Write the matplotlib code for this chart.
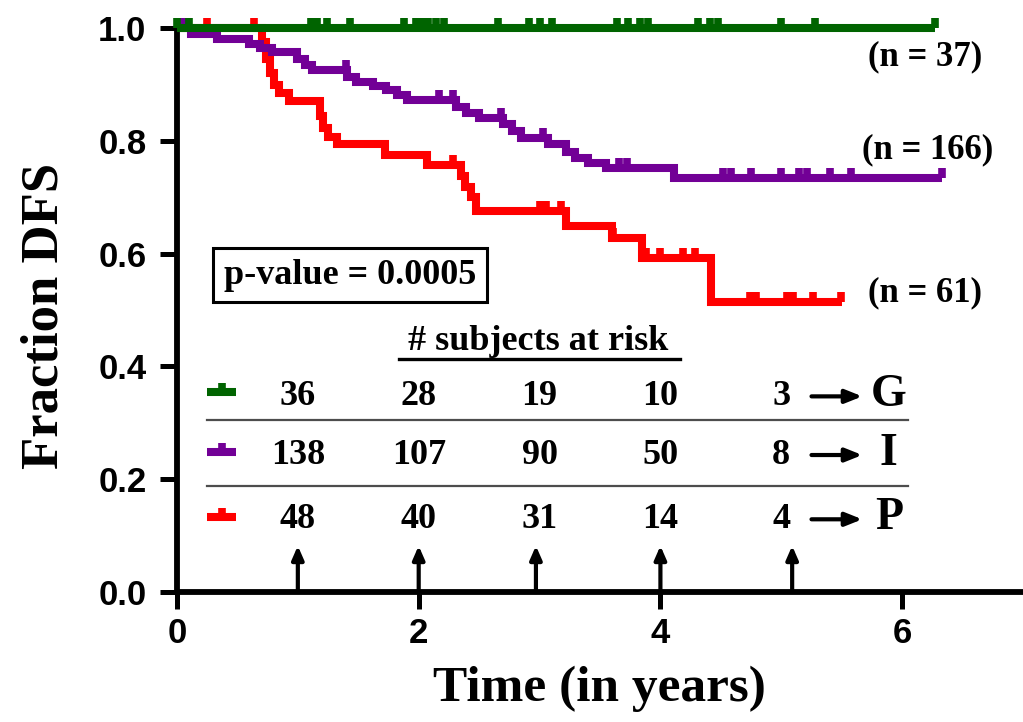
import matplotlib

matplotlib.use("Agg")
import matplotlib.pyplot as plt
import numpy as np
from matplotlib.path import Path

# ---- data ------------------------------------------------------------------
GROUPS = ["G", "I", "P"]
COLORS = {"G": "#006400", "I": "#720096", "P": "#ff0000"}
N_TOTAL = {"G": 37, "I": 166, "P": 61}

# Kaplan-Meier step points (time in years, survival after the step)
g_event_t = []
g_event_s = []
g_end = 6.27
g_censor = [0.0, 0.10, 1.11, 1.16, 1.24, 1.43, 1.88, 1.98, 2.03, 2.08, 2.14,
            2.21, 2.66, 2.91, 3.00, 3.10, 3.64, 3.73, 3.83, 3.90, 4.31, 4.41,
            4.48, 5.00, 5.28, 6.27]

i_event_t = [0.12, 0.33, 0.60, 0.69, 0.79, 0.99, 1.06, 1.12, 1.41, 1.48, 1.62,
             1.73, 1.82, 1.90, 2.31, 2.39, 2.50, 2.70, 2.77, 2.85, 3.07, 3.22,
             3.29, 3.40, 3.55, 4.11]
i_event_s = [0.990, 0.980, 0.972, 0.965, 0.957, 0.945, 0.934, 0.925, 0.913,
             0.904, 0.897, 0.890, 0.882, 0.872, 0.860, 0.850, 0.840, 0.830,
             0.817, 0.805, 0.795, 0.780, 0.770, 0.760, 0.752, 0.735]
i_end = 6.33
i_censor = [0.04, 0.09, 0.16, 1.40, 2.17, 2.28, 2.68, 3.03, 3.66, 3.72, 4.52,
            4.58, 4.75, 5.00, 5.15, 5.21, 5.40, 5.58, 6.33]

p_event_t = [0.70, 0.74, 0.77, 0.80, 0.84, 0.93, 1.18, 1.21, 1.25, 1.32, 1.72,
             2.07, 2.35, 2.38, 2.43, 2.47, 3.22, 3.60, 3.85, 4.42]
p_event_s = [0.975, 0.945, 0.920, 0.900, 0.885, 0.870, 0.845, 0.823, 0.807,
             0.795, 0.775, 0.757, 0.738, 0.719, 0.700, 0.675, 0.650, 0.628,
             0.592, 0.514]
p_end = 5.50
p_censor = [0.25, 0.64, 2.28, 3.00, 3.05, 3.18, 3.61, 3.88, 4.00, 4.19, 4.29,
            4.74, 4.79, 5.05, 5.10, 5.26, 5.49]

CURVES = {
    "G": (g_event_t, g_event_s, g_end, g_censor),
    "I": (i_event_t, i_event_s, i_end, i_censor),
    "P": (p_event_t, p_event_s, p_end, p_censor),
}

# number at risk table
risk_times = [1, 2, 3, 4, 5]
risk_counts = {
    "G": [36, 28, 19, 10, 3],
    "I": [138, 107, 90, 50, 8],
    "P": [48, 40, 31, 14, 4],
}
arrow_times = [1.0, 2.0, 2.97, 4.0, 5.09]
p_value = "0.0005"

# ---- styling ---------------------------------------------------------------
SERIF = "Liberation Serif"
SANS = "Liberation Sans"
LW = 5.8
TXT = 25
TICK = Path([(0, 0), (0, 1)])  # censor tick that rises above the line
ZORD = {"G": 5, "I": 4, "P": 3}

fig = plt.figure(figsize=(10.23, 7.22), dpi=100)
ax = fig.add_axes([0.173, 0.18, 0.827, 0.781])


def step_value(t, s, x):
    idx = np.searchsorted(np.asarray(t), x, side="right")
    return 1.0 if idx == 0 else s[idx - 1]


for g in GROUPS:
    t, s, end, cens = CURVES[g]
    xs = [0.0] + list(t) + [end]
    ys = [1.0] + list(s) + [s[-1] if s else 1.0]
    ax.plot(xs, ys, drawstyle="steps-post", color=COLORS[g], lw=LW,
            solid_joinstyle="miter", solid_capstyle="butt", clip_on=False,
            zorder=ZORD[g])
    cy = [step_value(t, s, c) for c in cens]
    ax.plot(cens, cy, ls="none", marker=TICK, markersize=15,
            markeredgewidth=5.5, color=COLORS[g], clip_on=False,
            zorder=ZORD[g])

# n labels
n_pos = {"G": (6.19, 0.949), "I": (6.21, 0.784), "P": (6.19, 0.53)}
for g in GROUPS:
    x, y = n_pos[g]
    ax.text(x, y, f"(n = {N_TOTAL[g]})", ha="center", va="center",
            fontsize=TXT, fontweight="bold", family=SERIF)

# p-value box
ax.text(1.43, 0.562, f"p-value = {p_value}", ha="center", va="center",
        fontsize=TXT + 1, fontweight="bold", family=SERIF,
        bbox=dict(boxstyle="square,pad=0.3", facecolor="white",
                  edgecolor="black", lw=2.2))

# risk table
ax.text(2.99, 0.445, "# subjects at risk", ha="center", va="center",
        fontsize=TXT + 1, fontweight="bold", family=SERIF)
ax.plot([1.84, 4.16], [0.414, 0.414], color="black", lw=2.4)

row_y = {"G": 0.347, "I": 0.243, "P": 0.129}
glyph_y = {"G": 0.355, "I": 0.248, "P": 0.133}
for g in GROUPS:
    for t, n in zip(risk_times, risk_counts[g]):
        ax.text(t, row_y[g], str(n), ha="center", va="center",
                fontsize=TXT + 1, fontweight="bold", family=SERIF)
    gy = glyph_y[g]
    ax.plot([0.25, 0.49], [gy, gy], color=COLORS[g], lw=LW,
            solid_capstyle="butt", zorder=3)
    ax.plot([0.37], [gy], ls="none", marker=TICK, markersize=13,
            markeredgewidth=5.5, color=COLORS[g])
    ax.annotate("", xy=(5.67, row_y[g]), xytext=(5.25, row_y[g]),
                arrowprops=dict(arrowstyle="-|>,head_length=1.0,head_width=0.4",
                                color="black", lw=3.0, shrinkA=0, shrinkB=0))
    ax.text(5.89, row_y[g] + 0.002, g, ha="center", va="center",
            fontsize=33, fontweight="bold", family=SERIF)

for yy in (0.305, 0.188):
    ax.plot([0.25, 6.05], [yy, yy], color="#4d4d4d", lw=1.6)

for t in arrow_times:
    ax.annotate("", xy=(t, 0.082), xytext=(t, 0.0),
                arrowprops=dict(arrowstyle="-|>,head_length=0.8,head_width=0.35",
                                color="black", lw=3.0, shrinkA=0, shrinkB=0))

# axes
ax.set_xlim(0, 7)
ax.set_ylim(0, 1.0)
ax.set_xticks([0, 2, 4, 6])
ax.set_yticks([0.0, 0.2, 0.4, 0.6, 0.8, 1.0])
ax.set_yticklabels(["0.0", "0.2", "0.4", "0.6", "0.8", "1.0"])
for lab in ax.get_xticklabels() + ax.get_yticklabels():
    lab.set_fontfamily(SANS)
    lab.set_fontweight("bold")
    lab.set_fontsize(25)
ax.tick_params(axis="y", direction="out", length=12, width=3.6, pad=10)
ax.tick_params(axis="x", direction="out", length=12, width=3.6, pad=6)
for side in ("top", "right"):
    ax.spines[side].set_visible(False)
for side in ("left", "bottom"):
    ax.spines[side].set_linewidth(4.2)
    ax.spines[side].set_capstyle("butt")

ax.set_xlabel("Time (in years)", fontsize=37, fontweight="bold", family=SERIF)
ax.set_ylabel("Fraction DFS", fontsize=38, fontweight="bold", family=SERIF)
ax.xaxis.set_label_coords(0.499, -0.13)
ax.yaxis.set_label_coords(-0.128, 0.49)

fig.savefig("out.png", dpi=100)
